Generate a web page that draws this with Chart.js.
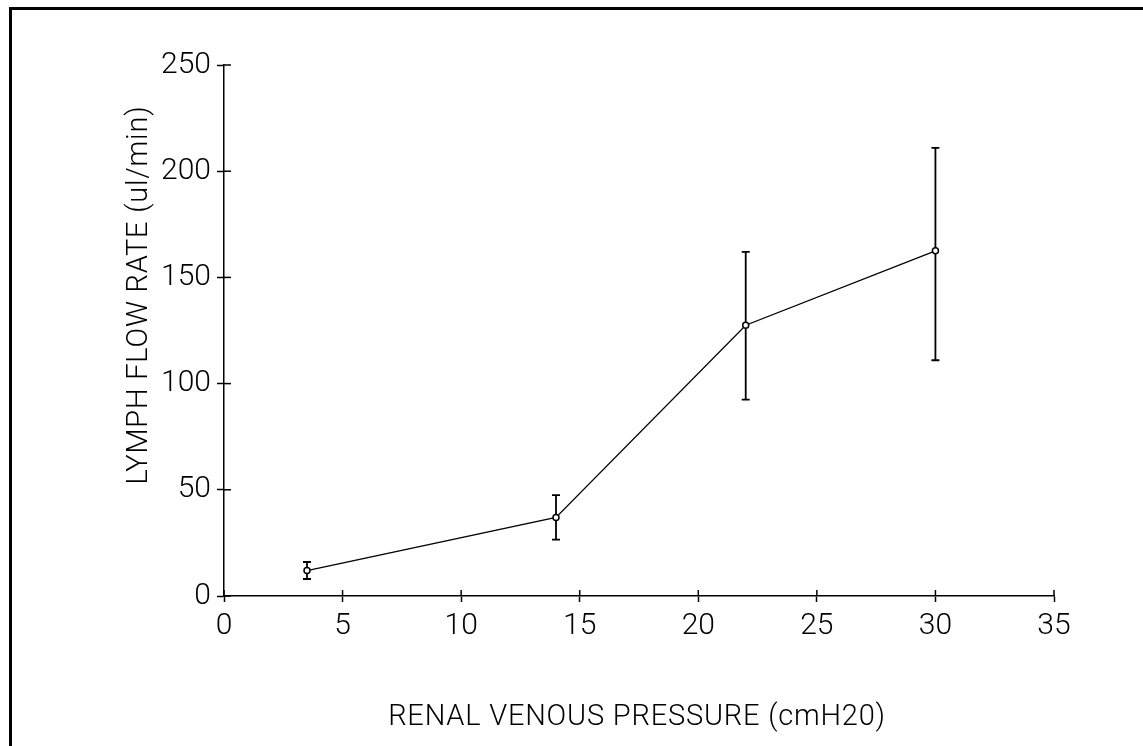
<!DOCTYPE html>
<html>
<head>
<meta charset="utf-8">
<script src="https://cdn.jsdelivr.net/npm/chart.js@4.4.1/dist/chart.umd.min.js"></script>
<style>
  html, body { margin: 0; padding: 0; background: #fff; }
  #wrap { position: relative; width: 1143px; height: 746px; overflow: hidden; }
  #frame { position: absolute; left: 9px; top: 7px; right: -10px; bottom: -10px;
           border-left: 3px solid #000; border-top: 3px solid #000; pointer-events: none; }
  canvas { display: block; }
</style>
</head>
<body>
<div id="wrap">
  <canvas id="c" width="1143" height="746"></canvas>
  <div id="frame"></div>
</div>
<script>
// ---- data ----
const pressure = [3.5, 14, 22, 30];           // renal venous pressure (cmH20)
const flowRate = [12, 37, 127.5, 162.5];      // lymph flow rate (ul/min)
const errUpper = [16, 47.5, 162, 211];        // top of error bar
const errLower = [8, 26.5, 92.5, 111];        // bottom of error bar
const xTicks = [0, 5, 10, 15, 20, 25, 30, 35];
const yTicks = [0, 50, 100, 150, 200, 250];
const xTitle = 'RENAL VENOUS PRESSURE (cmH20)';
const yTitle = 'LYMPH FLOW RATE (ul/min)';

const FONT = 'Roboto';
const tickFont = { family: FONT, size: 30, weight: '300' };
const titleFont = { family: FONT, size: 29, weight: '300' };

const points = pressure.map((x, i) => ({ x: x, y: flowRate[i] }));

const decorations = {
  id: 'decorations',
  afterDatasetsDraw(chart) {
    const ctx = chart.ctx;
    const xs = chart.scales.x, ys = chart.scales.y;
    const x0 = xs.getPixelForValue(0), y0 = ys.getPixelForValue(0);
    ctx.save();
    ctx.strokeStyle = '#000';
    // inner halves of tick marks (ticks cross the axes)
    ctx.lineWidth = 1.5;
    yTicks.forEach(v => {
      const py = ys.getPixelForValue(v);
      ctx.beginPath(); ctx.moveTo(x0, py); ctx.lineTo(x0 + 7, py); ctx.stroke();
    });
    xTicks.forEach(v => {
      const px = xs.getPixelForValue(v);
      ctx.beginPath(); ctx.moveTo(px, y0); ctx.lineTo(px, y0 - 6); ctx.stroke();
    });
    // error bars
    ctx.lineWidth = 1.8;
    pressure.forEach((x, i) => {
      const px = xs.getPixelForValue(x);
      const pt = ys.getPixelForValue(errUpper[i]);
      const pb = ys.getPixelForValue(errLower[i]);
      ctx.beginPath();
      ctx.moveTo(px, pt); ctx.lineTo(px, pb);
      ctx.moveTo(px - 4, pt); ctx.lineTo(px + 4, pt);
      ctx.moveTo(px - 4, pb); ctx.lineTo(px + 4, pb);
      ctx.stroke();
    });
    ctx.restore();
  },
  afterDraw(chart) {
    const ctx = chart.ctx;
    const xs = chart.scales.x, ys = chart.scales.y;
    const ca = chart.chartArea;
    ctx.save();
    ctx.lineWidth = 1.5;
    ctx.strokeStyle = '#000';
    ctx.fillStyle = '#fff';
    pressure.forEach((x, i) => {
      ctx.beginPath();
      ctx.arc(xs.getPixelForValue(x), ys.getPixelForValue(flowRate[i]), 3, 0, Math.PI * 2);
      ctx.fill(); ctx.stroke();
    });
    // axis titles
    ctx.fillStyle = '#000';
    ctx.font = `${titleFont.weight} ${titleFont.size}px ${FONT}`;
    if ('letterSpacing' in ctx) ctx.letterSpacing = '0.8px';
    ctx.textAlign = 'center';
    ctx.textBaseline = 'middle';
    ctx.fillText(xTitle, (ca.left + ca.right) / 2 - 2, ca.bottom + 122);
    ctx.translate(ca.left - 84, ca.top + 230);
    ctx.rotate(-Math.PI / 2);
    ctx.fillText(yTitle, 0, 0);
    ctx.restore();
  }
};

new Chart(document.getElementById('c'), {
  type: 'line',
  data: {
    datasets: [{
      data: points,
      borderColor: '#000',
      borderWidth: 1.3,
      pointRadius: 0,
      pointHoverRadius: 0,
      fill: false,
      tension: 0
    }]
  },
  options: {
    responsive: false,
    animation: false,
    events: [],
    layout: { padding: { top: 65, right: 89, bottom: 0, left: 0 } },
    plugins: { legend: { display: false }, tooltip: { enabled: false } },
    scales: {
      x: {
        type: 'linear', min: 0, max: 35,
        afterBuildTicks: s => { s.ticks = xTicks.map(v => ({ value: v })); },
        afterFit: s => { s.height = 150; },
        grid: { display: true, drawOnChartArea: false, drawTicks: true, tickLength: 6, tickWidth: 1.5, tickColor: '#000' },
        border: { display: true, color: '#000', width: 1.5 },
        ticks: { color: '#000', font: tickFont, padding: 6, maxRotation: 0 }
      },
      y: {
        type: 'linear', min: 0, max: 250,
        afterBuildTicks: s => { s.ticks = yTicks.map(v => ({ value: v })); },
        afterFit: s => { s.width = 224; },
        grid: { display: true, drawOnChartArea: false, drawTicks: true, tickLength: 7, tickWidth: 1.5, tickColor: '#000' },
        border: { display: true, color: '#000', width: 1.5 },
        ticks: { color: '#000', font: tickFont, padding: 6 }
      }
    }
  },
  plugins: [decorations]
});
</script>
</body>
</html>
